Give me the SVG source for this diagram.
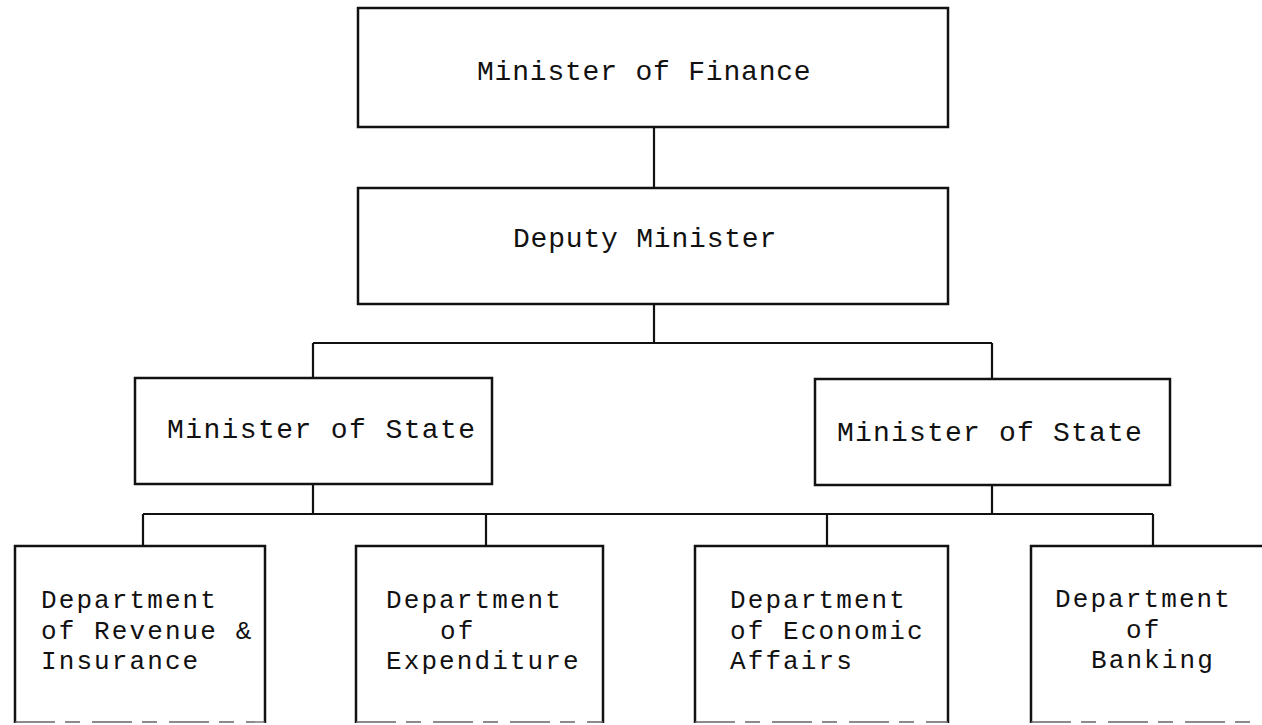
<svg xmlns="http://www.w3.org/2000/svg" width="1262" height="725" viewBox="0 0 1262 725">
<style>
.box{fill:none;stroke:#111;stroke-width:2.5}
.bot{fill:none;stroke:#666;stroke-width:1.3;stroke-dasharray:40 10 15 12}
.ln{fill:none;stroke:#111;stroke-width:2.2}
.t{font-family:"Liberation Mono","DejaVu Sans Mono",monospace;font-size:28px;letter-spacing:0.8px;fill:#111}
.d{font-family:"Liberation Mono","DejaVu Sans Mono",monospace;font-size:26px;letter-spacing:2.1px;fill:#111}
</style>
<rect width="1262" height="725" fill="#fff"/>
<g id="connectors">
<path class="ln" d="M654 127V188M654 304V343M313 343H992M313 343V378M992 343V379M313 484V514M992 485V514M143 514H1153M143 514V546M486 514V546M827 514V546M1153 514V546"/>
</g>
<g id="minister-finance">
<rect class="box" x="358" y="8" width="590" height="119"/>
<text class="t" x="477" y="80">Minister of Finance</text>
</g>
<g id="deputy-minister">
<rect class="box" x="358" y="188" width="590" height="116"/>
<text class="t" x="513" y="247">Deputy Minister</text>
</g>
<g id="mos-left">
<rect class="box" x="135" y="378" width="357" height="106"/>
<text class="t" x="167" y="438" style="letter-spacing:1.4px">Minister of State</text>
</g>
<g id="mos-right">
<rect class="box" x="815" y="379" width="355" height="106"/>
<text class="t" x="837" y="441" style="letter-spacing:1.2px">Minister of State</text>
</g>
<g id="dept-revenue">
<path class="box" d="M15 723V546H265V723"/>
<path class="bot" d="M15 722H265"/>
<text class="d" x="41" y="608">Department</text>
<text class="d" x="41" y="639">of Revenue &amp;</text>
<text class="d" x="41" y="669">Insurance</text>
</g>
<g id="dept-expenditure">
<path class="box" d="M356 723V546H603V723"/>
<path class="bot" d="M356 722H603"/>
<text class="d" x="386" y="608">Department</text>
<text class="d" x="440" y="639">of</text>
<text class="d" x="386" y="669">Expenditure</text>
</g>
<g id="dept-economic">
<path class="box" d="M695 723V546H948V723"/>
<path class="bot" d="M695 722H948"/>
<text class="d" x="730" y="608">Department</text>
<text class="d" x="730" y="639">of Economic</text>
<text class="d" x="730" y="669">Affairs</text>
</g>
<g id="dept-banking">
<path class="box" d="M1031 723V546H1264"/>
<path class="bot" d="M1031 722H1262"/>
<text class="d" x="1055" y="607">Department</text>
<text class="d" x="1126" y="638">of</text>
<text class="d" x="1091" y="668">Banking</text>
</g>
</svg>
